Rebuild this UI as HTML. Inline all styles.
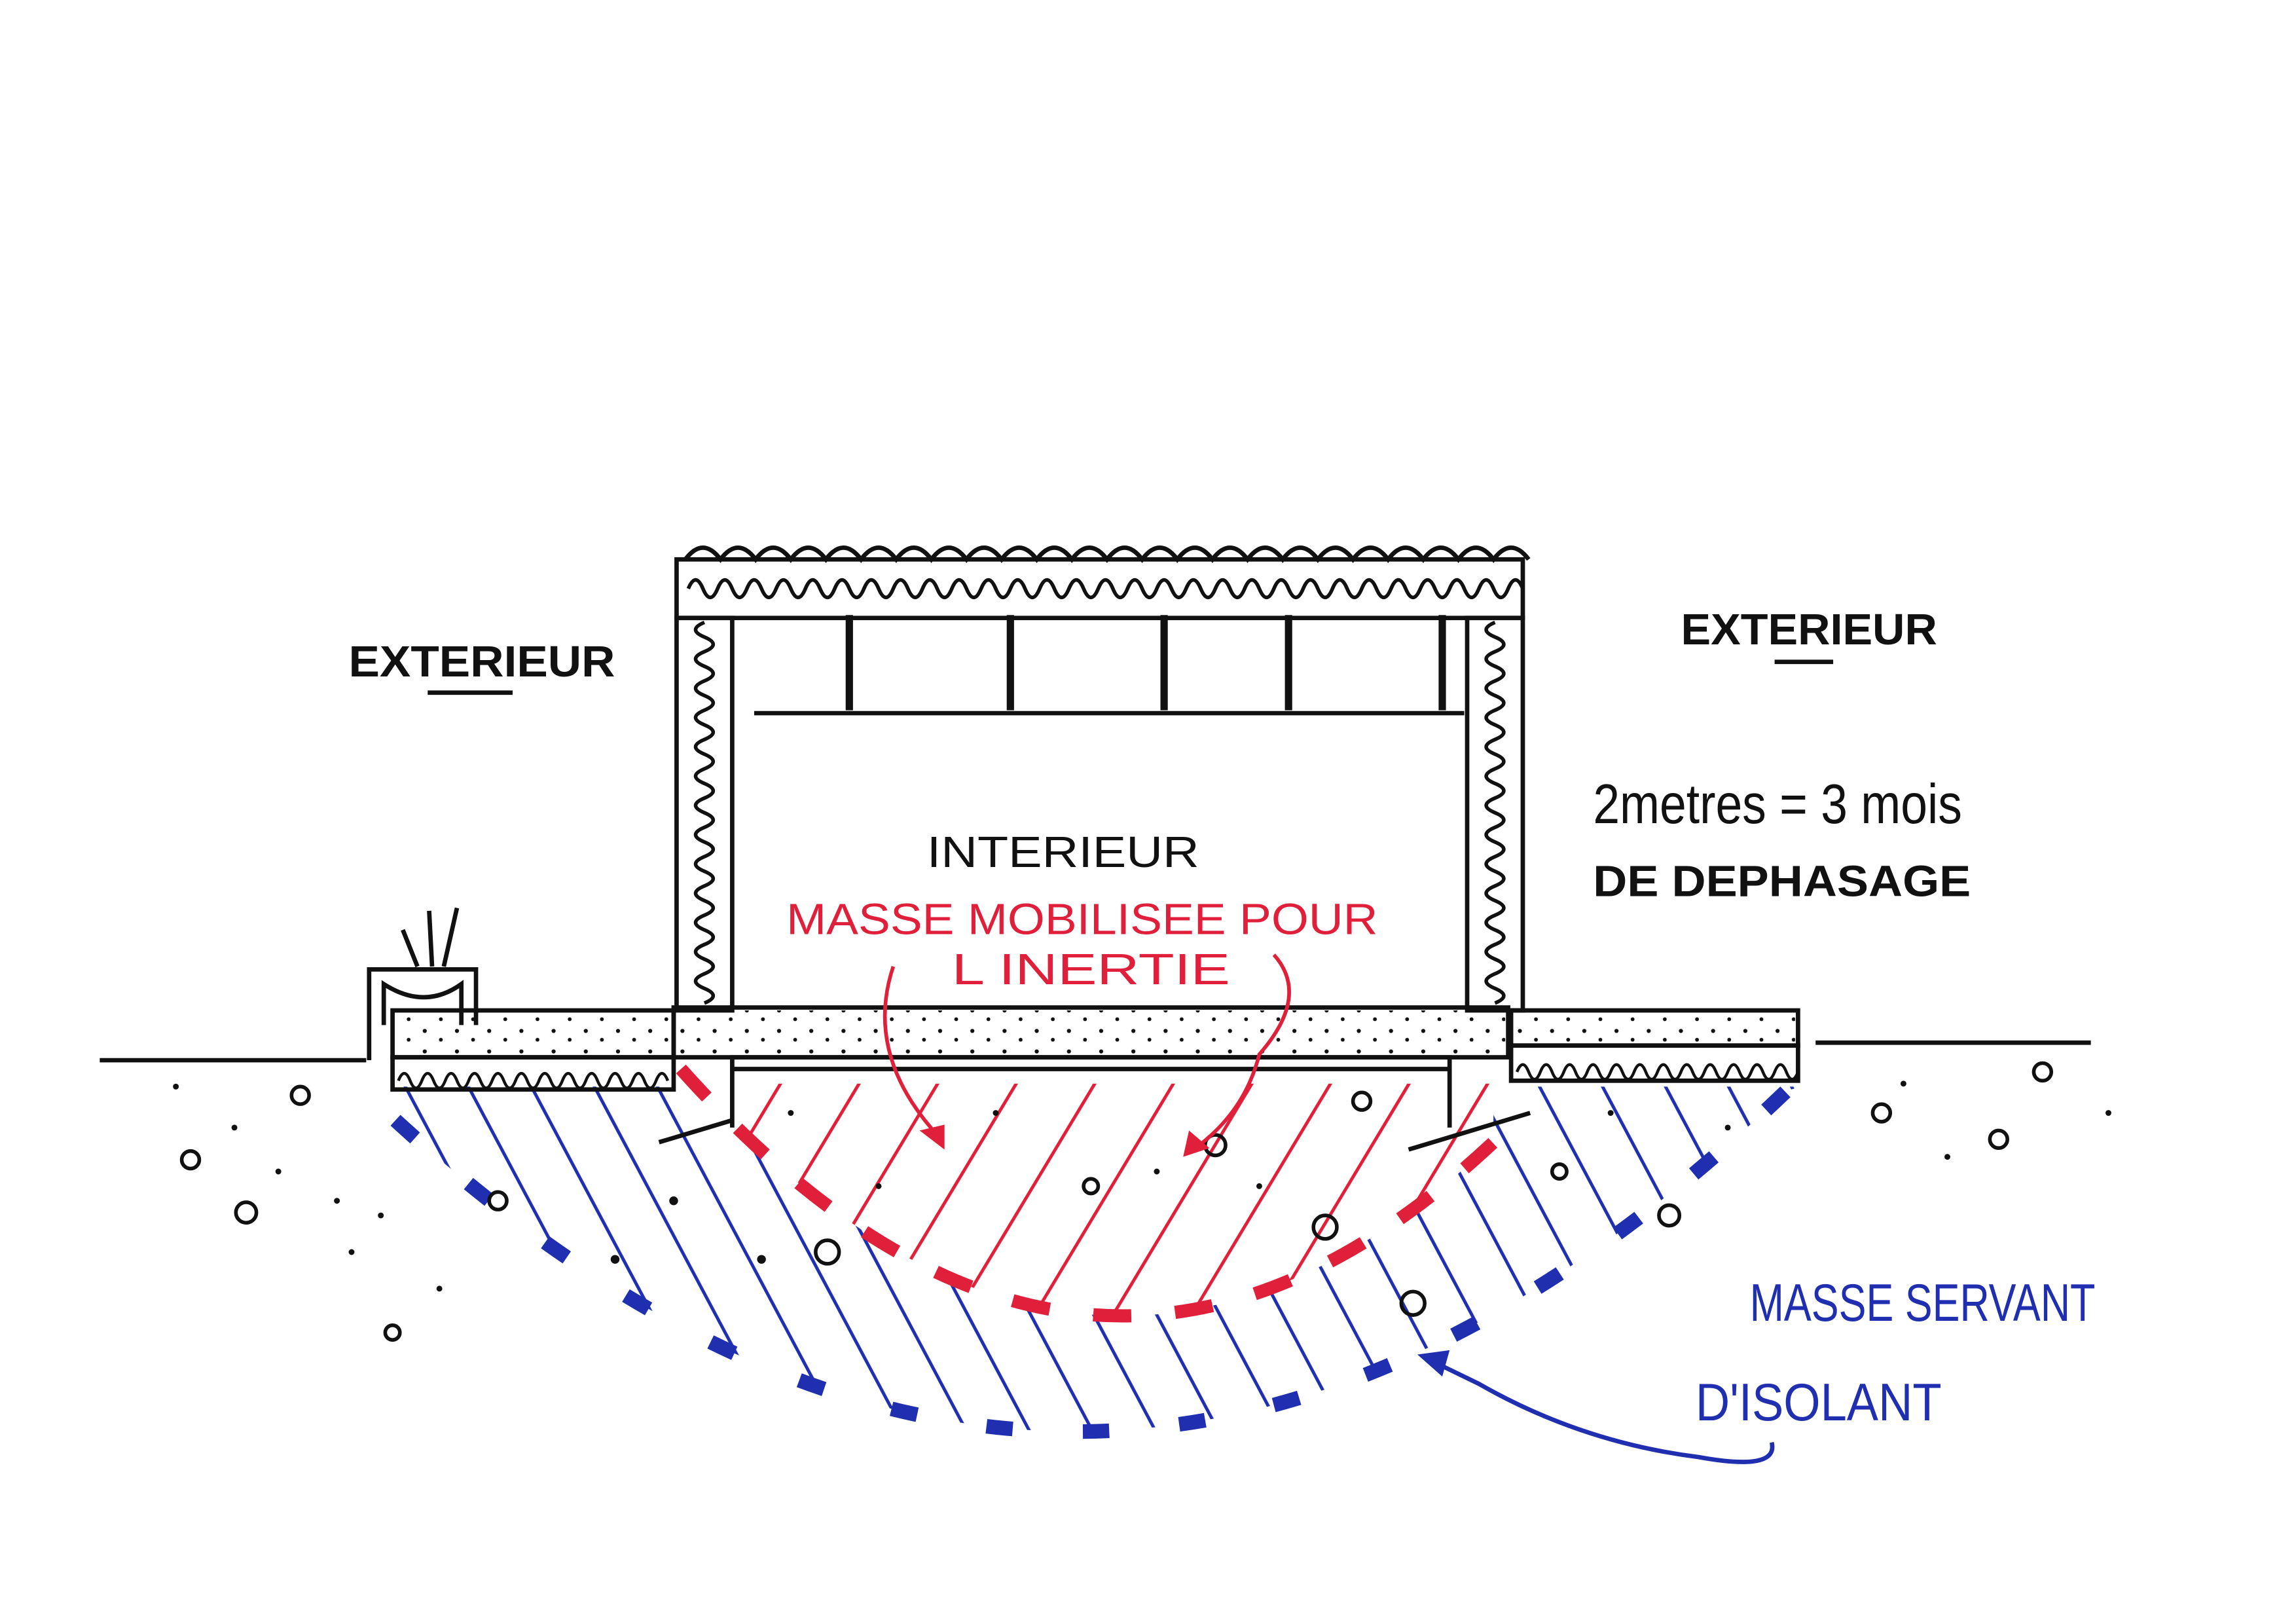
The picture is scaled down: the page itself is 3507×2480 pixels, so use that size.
<!DOCTYPE html>
<html><head><meta charset="utf-8"><style>
html,body{margin:0;padding:0;background:#fff;}
svg{display:block}
text{font-family:"Liberation Sans",sans-serif;}
</style></head><body>
<svg width="3507" height="2480" viewBox="0 0 1568 1109" xmlns="http://www.w3.org/2000/svg">
<defs>
<pattern id="bh" width="38" height="38" patternUnits="userSpaceOnUse" patternTransform="rotate(-28)">
<line x1="10" y1="0" x2="10" y2="38" stroke="#1f2fb0" stroke-width="2.2"/></pattern>
<pattern id="rh" width="46" height="46" patternUnits="userSpaceOnUse" patternTransform="rotate(31)">
<line x1="10" y1="0" x2="10" y2="46" stroke="#e0203a" stroke-width="2.2"/></pattern>
<pattern id="dots" width="22" height="14" patternUnits="userSpaceOnUse">
<circle cx="4" cy="4" r="1.4" fill="#111"/><circle cx="15" cy="10" r="1.3" fill="#111"/></pattern>
<clipPath id="bc"><path d="M270,742 L1230,742 L1220,745 Q745,1200 270,765 Z"/></clipPath>
<clipPath id="rc"><path d="M465,740 L1020,740 L1020,780 Q742,1040 465,730 Z"/></clipPath>
</defs>
<rect width="1568" height="1109" fill="#fff"/>
<rect x="260" y="740" width="980" height="260" fill="url(#bh)" clip-path="url(#bc)"/>
<rect x="260" y="740" width="980" height="260" fill="#fff" clip-path="url(#rc)"/>
<rect x="460" y="730" width="570" height="170" fill="url(#rh)" clip-path="url(#rc)"/>
<path d="M270,765 Q745,1200 1220,745" fill="none" stroke="#1f2fb0" stroke-width="10" stroke-dasharray="18,48"/>
<path d="M465,730 Q742,1040 1020,780" fill="none" stroke="#e0203a" stroke-width="9" stroke-dasharray="26,30"/>
<g stroke="#111" stroke-width="3" fill="none">
<line x1="68" y1="724" x2="250" y2="724"/>
<line x1="1240" y1="712" x2="1428" y2="712"/>
<rect x="462" y="382" width="578" height="40"/>
<rect x="462" y="422" width="38" height="268"/>
<rect x="1002" y="422" width="38" height="268"/>
<line x1="515" y1="487" x2="1000" y2="487"/>
<line x1="580" y1="420" x2="580" y2="485" stroke-width="5"/>
<line x1="690" y1="420" x2="690" y2="485" stroke-width="5"/>
<line x1="795" y1="420" x2="795" y2="485" stroke-width="5"/>
<line x1="880" y1="420" x2="880" y2="485" stroke-width="5"/>
<line x1="985" y1="420" x2="985" y2="485" stroke-width="5"/>
<rect x="460" y="688" width="570" height="34"/>
<path d="M500,770 L500,722 L990,722 L990,770"/>
<line x1="500" y1="730" x2="990" y2="730"/>
<line x1="450" y1="780" x2="500" y2="765"/>
<line x1="962" y1="785" x2="1045" y2="760"/>
<rect x="268" y="690" width="192" height="32"/>
<rect x="268" y="722" width="192" height="22"/>
<path d="M252,724 L252,662 L325,662 L325,700"/>
<path d="M262,700 L262,672 Q290,690 315,672 L315,700"/>
<line x1="285" y1="660" x2="275" y2="635"/>
<line x1="295" y1="660" x2="293" y2="622"/>
<line x1="303" y1="660" x2="312" y2="620"/>
<rect x="1032" y="690" width="196" height="24"/>
<rect x="1032" y="714" width="196" height="24"/>
</g>
<path d="M468,382 q12,-16 24,0 q12,-16 24,0 q12,-16 24,0 q12,-16 24,0 q12,-16 24,0 q12,-16 24,0 q12,-16 24,0 q12,-16 24,0 q12,-16 24,0 q12,-16 24,0 q12,-16 24,0 q12,-16 24,0 q12,-16 24,0 q12,-16 24,0 q12,-16 24,0 q12,-16 24,0 q12,-16 24,0 q12,-16 24,0 q12,-16 24,0 q12,-16 24,0 q12,-16 24,0 q12,-16 24,0 q12,-16 24,0 q12,-16 24,0" fill="none" stroke="#111" stroke-width="3"/>
<path d="M470,402 q5,-12 10,0 t10,0 t10,0 t10,0 t10,0 t10,0 t10,0 t10,0 t10,0 t10,0 t10,0 t10,0 t10,0 t10,0 t10,0 t10,0 t10,0 t10,0 t10,0 t10,0 t10,0 t10,0 t10,0 t10,0 t10,0 t10,0 t10,0 t10,0 t10,0 t10,0 t10,0 t10,0 t10,0 t10,0 t10,0 t10,0 t10,0 t10,0 t10,0 t10,0 t10,0 t10,0 t10,0 t10,0 t10,0 t10,0 t10,0 t10,0 t10,0 t10,0 t10,0 t10,0 t10,0 t10,0 t10,0 t10,0 t10,0" fill="none" stroke="#111" stroke-width="2.5"/>
<path d="M481,425 q-12,5 0,10 t0,10 t0,10 t0,10 t0,10 t0,10 t0,10 t0,10 t0,10 t0,10 t0,10 t0,10 t0,10 t0,10 t0,10 t0,10 t0,10 t0,10 t0,10 t0,10 t0,10 t0,10 t0,10 t0,10 t0,10 t0,10" fill="none" stroke="#111" stroke-width="2.5"/>
<path d="M1021,425 q-12,5 0,10 t0,10 t0,10 t0,10 t0,10 t0,10 t0,10 t0,10 t0,10 t0,10 t0,10 t0,10 t0,10 t0,10 t0,10 t0,10 t0,10 t0,10 t0,10 t0,10 t0,10 t0,10 t0,10 t0,10 t0,10 t0,10" fill="none" stroke="#111" stroke-width="2.5"/>
<path d="M272,738 q4,-10 8,0 t8,0 t8,0 t8,0 t8,0 t8,0 t8,0 t8,0 t8,0 t8,0 t8,0 t8,0 t8,0 t8,0 t8,0 t8,0 t8,0 t8,0 t8,0 t8,0 t8,0 t8,0 t8,0" fill="none" stroke="#111" stroke-width="2"/>
<path d="M1036,732 q4,-10 8,0 t8,0 t8,0 t8,0 t8,0 t8,0 t8,0 t8,0 t8,0 t8,0 t8,0 t8,0 t8,0 t8,0 t8,0 t8,0 t8,0 t8,0 t8,0 t8,0 t8,0 t8,0 t8,0 t8,0" fill="none" stroke="#111" stroke-width="2"/>
<rect x="462" y="690" width="566" height="30" fill="url(#dots)"/>
<rect x="270" y="692" width="188" height="28" fill="url(#dots)"/>
<rect x="1034" y="692" width="192" height="20" fill="url(#dots)"/>
<g fill="none" stroke="#111" stroke-width="2.5">
<circle cx="130" cy="792" r="6"/><circle cx="168" cy="828" r="7"/><circle cx="205" cy="748" r="6"/><circle cx="268" cy="910" r="5"/>
<circle cx="340" cy="820" r="6"/><circle cx="565" cy="855" r="8"/><circle cx="905" cy="838" r="8"/><circle cx="965" cy="890" r="8"/>
<circle cx="1140" cy="830" r="7"/><circle cx="1285" cy="760" r="6"/><circle cx="1395" cy="732" r="6"/><circle cx="1365" cy="778" r="6"/>
<circle cx="830" cy="782" r="7"/><circle cx="745" cy="810" r="5"/><circle cx="930" cy="752" r="6"/><circle cx="1065" cy="800" r="5"/>
</g>
<g fill="#111">
<circle cx="120" cy="742" r="2"/><circle cx="160" cy="770" r="2"/><circle cx="190" cy="800" r="2"/><circle cx="240" cy="855" r="2"/><circle cx="260" cy="830" r="2"/>
<circle cx="300" cy="880" r="2"/><circle cx="420" cy="860" r="3"/><circle cx="460" cy="820" r="3"/><circle cx="520" cy="860" r="3"/><circle cx="540" cy="760" r="2"/>
<circle cx="600" cy="810" r="2"/><circle cx="680" cy="760" r="2"/><circle cx="790" cy="800" r="2"/><circle cx="860" cy="810" r="2"/><circle cx="1100" cy="760" r="2"/>
<circle cx="1300" cy="740" r="2"/><circle cx="1330" cy="790" r="2"/><circle cx="1180" cy="770" r="2"/><circle cx="1440" cy="760" r="2"/><circle cx="230" cy="820" r="2"/>
</g>
<path d="M1210,985 Q1215,1005 1160,995 Q1080,985 1010,945 L975,928" fill="none" stroke="#1f2fb0" stroke-width="3"/>
<path d="M968,925 L990,922 L985,940 Z" fill="#1f2fb0"/>
<path d="M610,660 Q590,720 640,775" fill="none" stroke="#e0203a" stroke-width="2.5"/>
<path d="M645,785 L628,772 L645,768 Z" fill="#e0203a"/>
<path d="M870,652 Q895,680 860,720 Q850,760 815,785" fill="none" stroke="#e0203a" stroke-width="2.5"/>
<path d="M808,790 L812,772 L826,784 Z" fill="#e0203a"/>
<g font-size="30" fill="#111" font-weight="bold">
<text x="238" y="462" textLength="182" lengthAdjust="spacingAndGlyphs">EXTERIEUR</text>
<text x="1148" y="440" textLength="175" lengthAdjust="spacingAndGlyphs">EXTERIEUR</text>
<text x="633" y="592" textLength="186" lengthAdjust="spacingAndGlyphs" font-weight="normal">INTERIEUR</text>
<text x="1088" y="562" font-size="38" font-weight="normal" textLength="252" lengthAdjust="spacingAndGlyphs">2metres = 3 mois</text>
<text x="1088" y="612" textLength="258" lengthAdjust="spacingAndGlyphs">DE DEPHASAGE</text>
</g>
<line x1="292" y1="473" x2="350" y2="473" stroke="#111" stroke-width="3"/>
<line x1="1212" y1="452" x2="1252" y2="452" stroke="#111" stroke-width="3"/>
<g font-size="30" fill="#e0203a">
<text x="537" y="638" textLength="404" lengthAdjust="spacingAndGlyphs">MASSE MOBILISEE POUR</text>
<text x="650" y="672" textLength="190" lengthAdjust="spacingAndGlyphs">L INERTIE</text>
</g>
<g font-size="36" fill="#1f2fb0">
<text x="1195" y="902" textLength="236" lengthAdjust="spacingAndGlyphs">MASSE SERVANT</text>
<text x="1158" y="970" textLength="168" lengthAdjust="spacingAndGlyphs">D'ISOLANT</text>
</g>
</svg>
</body></html>
